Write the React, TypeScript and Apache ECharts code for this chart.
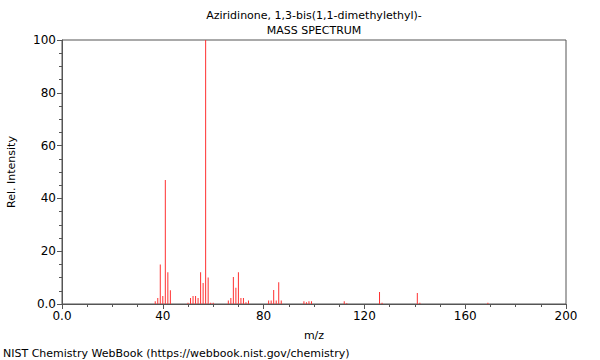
import React, { useEffect, useRef } from "react";
import * as echarts from "echarts";

const titleLine1 = "Aziridinone, 1,3-bis(1,1-dimethylethyl)-";
const titleLine2 = "MASS SPECTRUM";
const footer = "NIST Chemistry WebBook (https://webbook.nist.gov/chemistry)";
const xName = "m/z";
const yName = "Rel. Intensity";

const mzValues = [37, 38, 39, 40, 41, 42, 43, 50, 51, 52, 53, 54, 55, 56, 57, 58, 59, 60, 66, 67, 68, 69, 70, 71, 72, 73, 74, 82, 83, 84, 85, 86, 87, 96, 97, 98, 99, 112, 113, 126, 127, 141, 142, 169];
const intensities = [1, 2.3, 15, 3, 47, 12, 5.2, 0.5, 2.3, 3, 3, 2.3, 12, 8, 100, 10, 0.5, 0.5, 1.3, 2.3, 10.2, 6.2, 12, 2.3, 2.3, 0.7, 1.3, 1.3, 1.3, 5.3, 1.3, 8.2, 1.3, 1, 0.7, 1, 1, 1, 0.3, 4.5, 0.5, 4.2, 0.5, 0.5];

const fmt = (v: number) => (v === 0 ? "0.0" : String(v));

export default function App() {
  const ref = useRef<HTMLDivElement>(null);
  useEffect(() => {
    if (!ref.current) return;
    const chart = echarts.init(ref.current, null, { renderer: "svg" });
    const font = "DejaVu Sans";
    const axisColor = "#555";
    chart.setOption({
      animation: false,
      textStyle: { fontFamily: font },
      grid: {
        left: 62,
        right: 34,
        top: 40,
        bottom: 56,
        containLabel: false,
        outerBoundsMode: "none",
        show: true,
        borderColor: axisColor,
        borderWidth: 1,
        backgroundColor: "transparent",
      },
      graphic: [
        { type: "text", x: 314, y: 15, style: { text: titleLine1, font: `11px '${font}'`, fill: "#000", textAlign: "center", textVerticalAlign: "middle" } },
        { type: "text", x: 314, y: 30, style: { text: titleLine2, font: `11px '${font}'`, fill: "#000", textAlign: "center", textVerticalAlign: "middle" } },
        { type: "text", x: 3, y: 353, style: { text: footer, font: `11px '${font}'`, fill: "#000", textAlign: "left", textVerticalAlign: "middle" } },
      ],
      xAxis: {
        type: "value",
        min: 0,
        max: 200,
        interval: 40,
        name: xName,
        nameLocation: "middle",
        nameGap: 26,
        nameTextStyle: { fontFamily: font, fontSize: 11, color: "#000" },
        axisLine: { show: true, lineStyle: { color: axisColor } },
        axisTick: { show: true, length: 5, lineStyle: { color: axisColor } },
        minorTick: { show: true, splitNumber: 4, length: 3, lineStyle: { color: axisColor } },
        splitLine: { show: false },
        axisLabel: { formatter: fmt, fontFamily: font, fontSize: 12, color: "#000", margin: 6 },
      },
      yAxis: {
        type: "value",
        min: 0,
        max: 100,
        interval: 20,
        name: yName,
        nameLocation: "middle",
        nameGap: 45,
        nameTextStyle: { fontFamily: font, fontSize: 11, color: "#000" },
        axisLine: { show: true, lineStyle: { color: axisColor } },
        axisTick: { show: true, length: 5, lineStyle: { color: axisColor } },
        minorTick: { show: true, splitNumber: 4, length: 3, lineStyle: { color: axisColor } },
        splitLine: { show: false },
        axisLabel: { formatter: fmt, fontFamily: font, fontSize: 12, color: "#000", margin: 6 },
      },
      series: [
        {
          type: "bar",
          data: mzValues.map((m, i) => [m, intensities[i]]),
          barWidth: 1,
          itemStyle: { color: "#ff3030" },
          silent: true,
        },
      ],
    });
    return () => chart.dispose();
  }, []);
  return <div ref={ref} style={{ width: 600, height: 360, position: "absolute", left: 0, top: 0 }} />;
}
